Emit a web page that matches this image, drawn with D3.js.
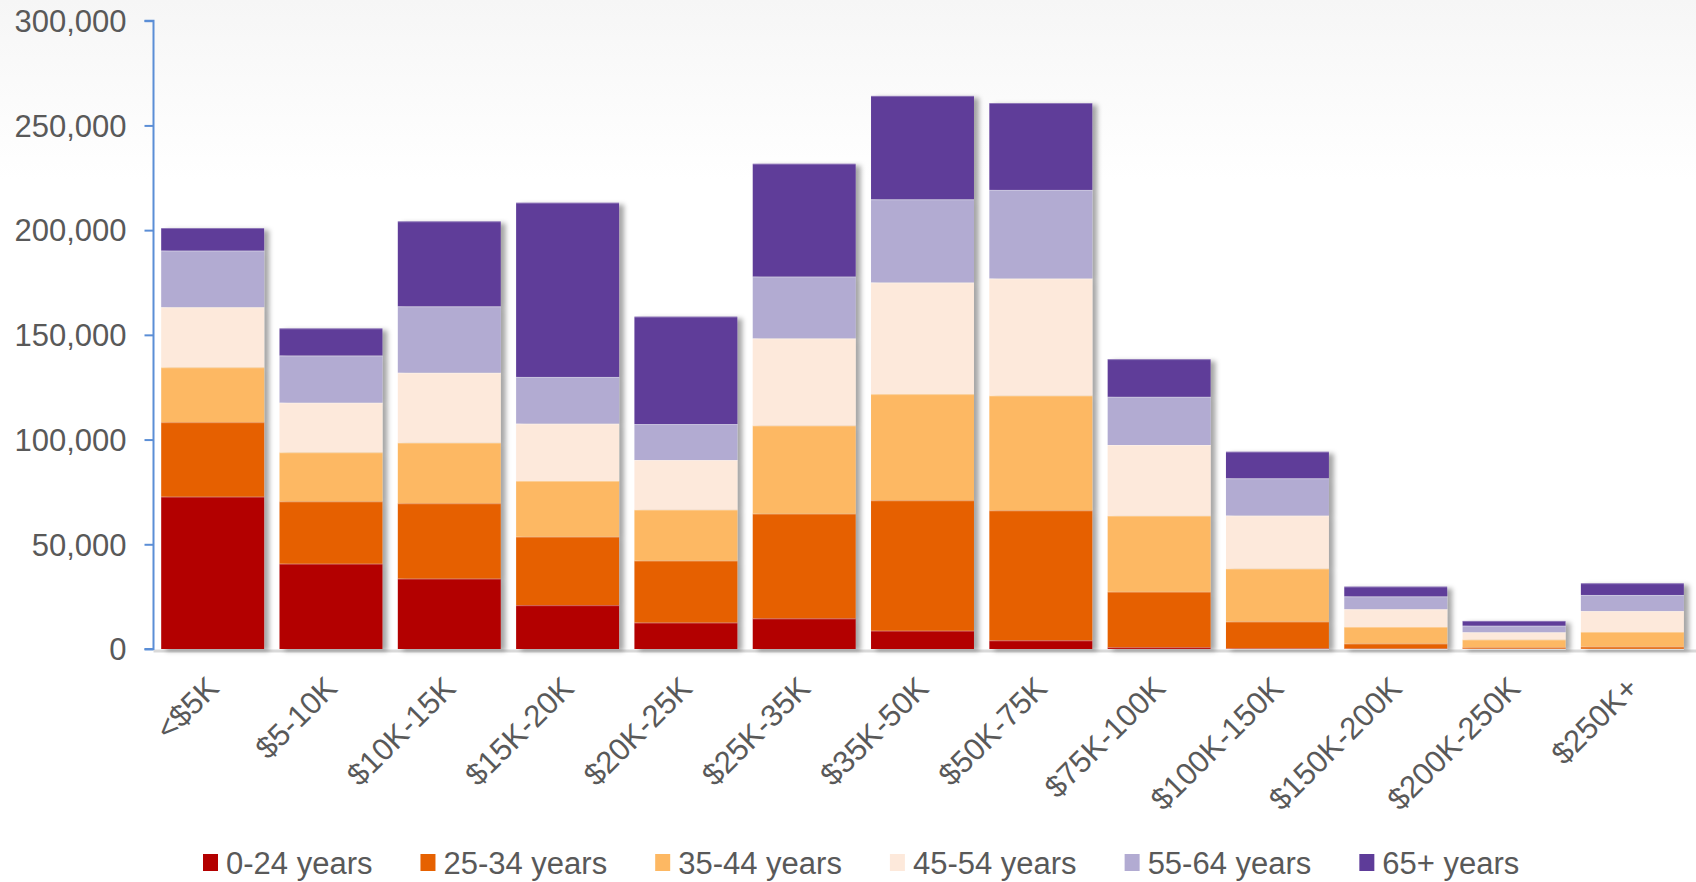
<!DOCTYPE html>
<html>
<head>
<meta charset="utf-8">
<script src="https://cdn.jsdelivr.net/npm/d3@7"></script>
<style>
  html, body { margin: 0; padding: 0; background: #ffffff; }
  svg { display: block; font-family: "Liberation Sans", Arial, sans-serif; }
</style>
</head>
<body>
<svg id="chart" width="1696" height="882"></svg>
<script>
// ---- Data ----
const categories = ["<$5K", "$5-10K", "$10K-15K", "$15K-20K", "$20K-25K", "$25K-35K", "$35K-50K", "$50K-75K", "$75K-100K", "$100K-150K", "$150K-200K", "$200K-250K", "$250K+"];
const seriesNames = ["0-24 years", "25-34 years", "35-44 years", "45-54 years", "55-64 years", "65+ years"];
const age0_24  = [72700, 40700, 33600, 20900, 12600, 14600,  8700,  4100,   800,   300,  200,  100,  100];
const age25_34 = [35600, 29800, 36000, 32700, 29600, 50000, 62300, 62100, 26500, 12800, 2400,  700, 1000];
const age35_44 = [26200, 23400, 28900, 26600, 24300, 42100, 50700, 54800, 36300, 25300, 7900, 3700, 7000];
const age45_54 = [28700, 23700, 33400, 27400, 23700, 41600, 53300, 55900, 33800, 25300, 8500, 3500, 10000];
const age55_64 = [27000, 22500, 31700, 22300, 17200, 29500, 39700, 42300, 23000, 17800, 6100, 3100, 7700];
const age65    = [10800, 13000, 40600, 83200, 51300, 53900, 49400, 41500, 18000, 12700, 4700, 2300, 5600];
const yTicks = [0, 50000, 100000, 150000, 200000, 250000, 300000];
const colors = ["#b30000", "#e66101", "#fdb863", "#fde9db", "#b2abd2", "#5e3c99"];

// ---- Build table ----
const seriesValues = [age0_24, age25_34, age35_44, age45_54, age55_64, age65];
const table = categories.map((c, i) => {
  const row = { cat: c };
  seriesNames.forEach((s, j) => row[s] = seriesValues[j][i]);
  return row;
});
const stacked = d3.stack().keys(seriesNames)(table);

// ---- Layout ----
const svg = d3.select("#chart");
const W = 1696, H = 882;
const x0 = 153.5, x1 = 1691.5, yTop = 20.7, yBase = 649;

const x = d3.scaleBand().domain(categories).range([x0, x1]).paddingInner(0.13).paddingOuter(0.065);
const y = d3.scaleLinear().domain([0, 300000]).range([yBase, yTop]);
const color = d3.scaleOrdinal().domain(seriesNames).range(colors);

const defs = svg.append("defs");
const grad = defs.append("linearGradient").attr("id", "bg").attr("x1", 0).attr("y1", 0).attr("x2", 0).attr("y2", 1);
grad.append("stop").attr("offset", "0%").attr("stop-color", "#f6f6f6");
grad.append("stop").attr("offset", "100%").attr("stop-color", "#ffffff");
const filt = defs.append("filter").attr("id", "shadow").attr("x", "-10%").attr("y", "-10%").attr("width", "130%").attr("height", "130%");
filt.append("feDropShadow").attr("dx", 5).attr("dy", 2).attr("stdDeviation", 2.5)
  .attr("flood-color", "#000").attr("flood-opacity", 0.35);

svg.append("rect").attr("x", 0).attr("y", 0).attr("width", W).attr("height", 180).attr("fill", "url(#bg)");

// floor line
svg.append("line").attr("x1", x0).attr("x2", W).attr("y1", yBase + 2).attr("y2", yBase + 2)
  .attr("stroke", "#d9d9d9").attr("stroke-width", 3);

// bars grouped by category (so shadow sits behind whole stack)
const catGroups = svg.append("g").selectAll("g.cat")
  .data(categories).join("g").attr("class", "cat").attr("filter", "url(#shadow)");

catGroups.each(function(cat, i) {
  const g = d3.select(this);
  stacked.forEach(layer => {
    const d = layer[i];
    g.append("rect")
      .attr("x", x(cat))
      .attr("width", x.bandwidth())
      .attr("y", y(d[1]))
      .attr("height", Math.max(0, y(d[0]) - y(d[1])))
      .attr("fill", color(layer.key));
  });
  // subtle light edges between segments
  stacked.forEach(layer => {
    const d = layer[i];
    if (d[1] - d[0] > 0) {
      g.append("line")
        .attr("x1", x(cat)).attr("x2", x(cat) + x.bandwidth())
        .attr("y1", y(d[1]) + 0.5).attr("y2", y(d[1]) + 0.5)
        .attr("stroke", "#ffffff").attr("stroke-opacity", 0.3).attr("stroke-width", 1);
    }
  });
});

// y axis
const yAxis = d3.axisLeft(y).tickValues(yTicks).tickFormat(d3.format(",")).tickSize(9).tickPadding(18);
const ya = svg.append("g").attr("transform", `translate(${x0},0)`).call(yAxis);
ya.select(".domain").attr("stroke", "#5b8ed6").attr("stroke-width", 2).attr("d", `M-9,${yTop}H0V${yBase}H-9`);
ya.selectAll(".tick line").attr("stroke", "#5b8ed6").attr("stroke-width", 2);
ya.selectAll(".tick text").attr("fill", "#595959").attr("font-size", 31)
  .attr("font-family", "'Liberation Sans', Arial, sans-serif").attr("dy", "0.35em");

// x labels
const xl = svg.append("g");
categories.forEach(c => {
  const cx = x(c) + x.bandwidth() / 2 + 8;
  const cy = 690;
  xl.append("text")
    .attr("transform", `translate(${cx},${cy}) rotate(-45)`)
    .attr("text-anchor", "end")
    .attr("fill", "#595959")
    .attr("font-size", 31)
    .text(c);
});

// legend
const legend = svg.append("g");
let lx = 203;
const ly = 874;
seriesNames.forEach((s, j) => {
  legend.append("rect").attr("x", lx).attr("y", ly - 20).attr("width", 15).attr("height", 17).attr("fill", colors[j]);
  const t = legend.append("text").attr("x", lx + 23).attr("y", ly).attr("fill", "#595959").attr("font-size", 31).text(s);
  lx += 23 + t.node().getComputedTextLength() + 48;
});
</script>
</body>
</html>
